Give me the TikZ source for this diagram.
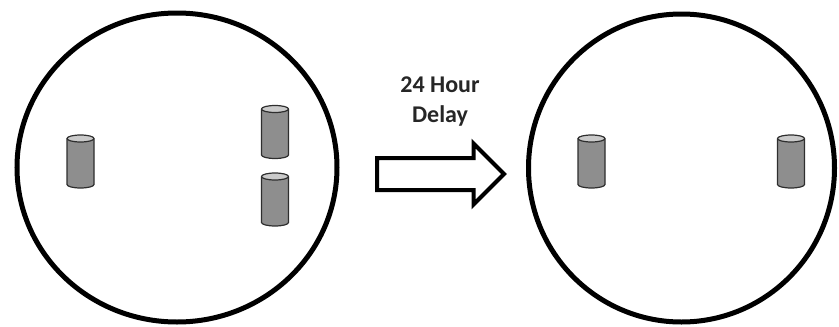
\documentclass[tikz,border=0pt]{standalone}
\usepackage{fontspec}
\setmainfont{Carlito}
\usetikzlibrary{shapes.geometric,shapes.arrows}
\definecolor{cylbody}{HTML}{8E8E8E}
\definecolor{cyltop}{HTML}{CACACA}
\definecolor{cyledge}{HTML}{2E2E2E}
\tikzset{
  dish/.style={ellipse, draw=black, line width=5pt, inner sep=0pt},
  cylline/.style={draw=cyledge, line width=1.2pt, line join=round},
  bigarrow/.style={single arrow, draw=black, line width=4pt, fill=white,
    inner sep=0pt, inner ysep=14pt, minimum height=127pt, minimum width=57pt,
    single arrow head extend=14.5pt},
  lbl/.style={font=\fontsize{24}{30}\selectfont\bfseries, align=center, text=black!85}
}
\begin{document}
\begin{tikzpicture}[x=1pt,y=-1pt]
\useasboundingbox (0,0) rectangle (839,327);
\node[dish, minimum width=320pt, minimum height=309pt] (left) at (177,167.5) {};
\node[dish, minimum width=306pt, minimum height=308pt] (right) at (681.5,168) {};
\coordinate (a1) at (80.5,161.5);
\coordinate (a2) at (275,132);
\coordinate (a3) at (275,199.5);
\coordinate (b1) at (591.5,161.5);
\coordinate (b2) at (791,161.5);
\foreach \c in {a1,a2,a3,b1,b2}{
  \begin{scope}[shift={(\c)}]
    \path[cylline, fill=cylbody] (-13.5,-23) -- (-13.5,23)
      arc[start angle=180, end angle=0, x radius=13.5, y radius=3.5]
      -- (13.5,-23) -- cycle;
    \path[cylline, fill=cyltop] (0,-23) ellipse[x radius=13.5, y radius=3.5];
  \end{scope}
}
\node[bigarrow, anchor=tail] (arr) at (375,174) {};
\node[lbl] (txt) at (440,102) {24 Hour\\Delay};
\end{tikzpicture}
\end{document}
